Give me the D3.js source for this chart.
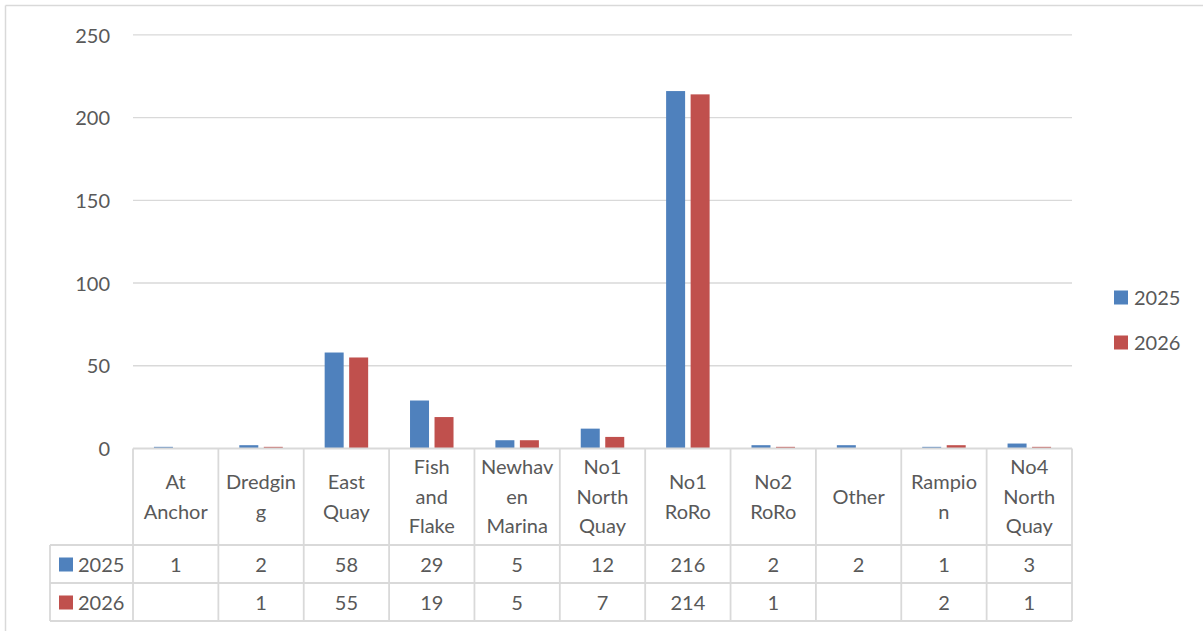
<!DOCTYPE html>
<html><head><meta charset="utf-8">
<script src="https://cdn.jsdelivr.net/npm/d3@7/dist/d3.min.js"></script>
<style>
html,body{margin:0;padding:0;background:#fff;}
svg text{font-family:Lato,"Open Sans",sans-serif;fill:#595959;}
</style></head>
<body>
<svg id="chart" width="1203" height="631"></svg>
<script>
const categories = ["At Anchor","Dredging","East Quay","Fish and Flake","Newhaven Marina","No1 North Quay","No1 RoRo","No2 RoRo","Other","Rampion","No4 North Quay"];
const categoryLines = [["At","Anchor"],["Dredgin","g"],["East","Quay"],["Fish","and","Flake"],["Newhav","en","Marina"],["No1","North","Quay"],["No1","RoRo"],["No2","RoRo"],["Other"],["Rampio","n"],["No4","North","Quay"]];
const seriesNames = ["2025","2026"];
const values2025 = [1,2,58,29,5,12,216,2,2,1,3];
const values2026 = [null,1,55,19,5,7,214,1,null,2,1];
const yTicks = [0,50,100,150,200,250];
const colors = ["#4F81BD","#C0504D"];

const series = [values2025, values2026];
const svg = d3.select("#chart");
const grid = "#d9d9d9";
const fs = 20;

// outer border (top & left)
svg.append("line").attr("x1",5.5).attr("x2",1203).attr("y1",5.5).attr("y2",5.5).attr("stroke",grid).attr("stroke-width",1.5);
svg.append("line").attr("x1",5.5).attr("x2",5.5).attr("y1",5.5).attr("y2",631).attr("stroke",grid).attr("stroke-width",1.5);

const x0 = 133, x1 = 1072;
const y = d3.scaleLinear().domain([0,250]).range([448.5,34.8]);
const x = d3.scaleBand().domain(categories).range([x0,x1]).paddingInner(0).paddingOuter(0);

// gridlines
svg.append("g").selectAll("line").data(yTicks.filter(d=>d>0)).join("line")
  .attr("x1",x0).attr("x2",x1).attr("y1",d=>y(d)).attr("y2",d=>y(d))
  .attr("stroke",grid).attr("stroke-width",1.3);

// y axis labels
const yAxis = d3.axisLeft(y).tickValues(yTicks).tickSize(0).tickPadding(0);
const ya = svg.append("g").attr("transform","translate(110,0)").call(yAxis);
ya.select(".domain").remove();
ya.selectAll("text").attr("font-size",fs).attr("font-family","Lato").attr("fill","#595959").attr("dy","0.36em");

// bars
const bw = 19, gap = 5.5;
const sub = d3.scaleBand().domain([0,1]).range([0,bw*2+gap]).paddingInner(gap/(bw+gap/2)/1.0);
series.forEach((vals,si)=>{
  svg.append("g").selectAll("rect").data(categories.map((c,i)=>({c,v:vals[i]})).filter(d=>d.v!=null)).join("rect")
    .attr("x",d=>x(d.c)+x.bandwidth()/2 - (bw+gap/2) + si*(bw+gap))
    .attr("width",bw)
    .attr("y",d=>y(d.v))
    .attr("height",d=>y(0)-y(d.v))
    .attr("fill",colors[si]);
});

// data table
const tTop = 448.5, hdrBot = 545, row1Bot = 583, row2Bot = 621, legLeft = 50;
const tg = svg.append("g");
const L = (xa,ya1,xb,yb)=>tg.append("line").attr("x1",xa).attr("y1",ya1).attr("x2",xb).attr("y2",yb).attr("stroke",grid).attr("stroke-width",1.8);
L(x0,tTop,x1,tTop);
L(legLeft,hdrBot,x1,hdrBot);
L(legLeft,row1Bot,x1,row1Bot);
L(legLeft,row2Bot,x1,row2Bot);
L(legLeft,hdrBot,legLeft,row2Bot);
categories.forEach(c=>L(x(c),tTop,x(c),row2Bot));
L(x1,tTop,x1,row2Bot);

// category labels
const lh = 29.5;
categories.forEach((c,i)=>{
  const lines = categoryLines[i];
  const cx = x(c)+x.bandwidth()/2;
  const cy = (tTop+hdrBot)/2;
  const t = tg.append("text").attr("text-anchor","middle").attr("font-size",fs);
  lines.forEach((ln,j)=>{
    t.append("tspan").attr("x",cx).attr("y",cy + (j-(lines.length-1)/2)*lh).attr("dy","0.36em").text(ln);
  });
});

// value rows
const rowCenters = [(hdrBot+row1Bot)/2+0.5,(row1Bot+row2Bot)/2+0.5];
series.forEach((vals,si)=>{
  tg.append("g").selectAll("text").data(categories.map((c,i)=>({c,v:vals[i]})).filter(d=>d.v!=null)).join("text")
    .attr("x",d=>x(d.c)+x.bandwidth()/2).attr("y",rowCenters[si]).attr("dy","0.36em")
    .attr("text-anchor","middle").attr("font-size",fs).text(d=>d.v);
  tg.append("rect").attr("x",59).attr("y",rowCenters[si]-7).attr("width",14).attr("height",14).attr("fill",colors[si]);
  tg.append("text").attr("x",78).attr("y",rowCenters[si]).attr("dy","0.36em").attr("font-size",fs).text(seriesNames[si]);
});

// right legend
const legY = [297.5,342.5];
seriesNames.forEach((s,si)=>{
  svg.append("rect").attr("x",1114).attr("y",legY[si]-7).attr("width",14).attr("height",14).attr("fill",colors[si]);
  svg.append("text").attr("x",1134).attr("y",legY[si]).attr("dy","0.36em").attr("font-size",fs).text(s);
});
</script>
</body></html>
